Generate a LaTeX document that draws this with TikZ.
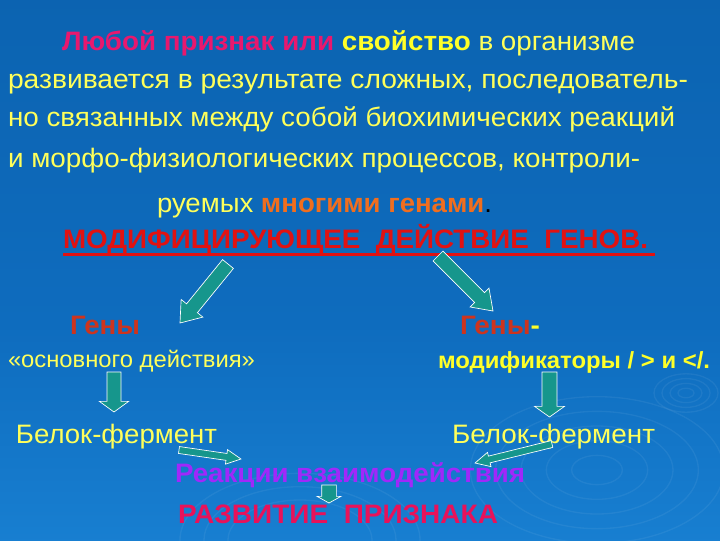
\documentclass[tikz,border=0pt]{standalone}
\usepackage{fontspec}
\usepackage{graphicx}
\setmainfont{Liberation Sans}
\usetikzlibrary{calc}
\definecolor{bgtop}{RGB}{10,92,166}
\definecolor{bgmid}{RGB}{14,108,190}
\definecolor{bgbot}{RGB}{36,150,232}
\definecolor{yel}{RGB}{255,255,90}
\definecolor{yelb}{RGB}{255,255,40}
\definecolor{pinkc}{RGB}{232,24,110}
\definecolor{orangec}{RGB}{240,110,30}
\definecolor{redc}{RGB}{225,18,18}
\definecolor{genyc}{RGB}{205,52,30}
\definecolor{purplec}{RGB}{160,40,250}
\definecolor{razvc}{RGB}{232,18,90}
\definecolor{teal}{RGB}{22,150,140}
\pgfdeclareverticalshading{bgshade}{100bp}{color(0bp)=(bgbot); color(45bp)=(bgmid); color(100bp)=(bgtop)}
\newcommand\fitto[2]{\resizebox{#1}{\height}{#2}}
\newcommand\blockarr[5]{%
  \coordinate (hb) at ($(#2)!#5!(#1)$);
  \filldraw[barrow] ($(#1)!#3!90:(#2)$) -- ($(hb)!#3!-90:(#1)$) -- ($(hb)!#4!-90:(#1)$) -- (#2) -- ($(hb)!#4!90:(#1)$) -- ($(hb)!#3!90:(#1)$) -- ($(#1)!#3!-90:(#2)$) -- cycle;}
\begin{document}
\begin{tikzpicture}[x=0.75pt,y=-0.75pt,
  txt/.style={inner sep=0pt, outer sep=0pt, anchor=base west, font=\fontsize{20}{24}\selectfont},
  small/.style={font=\fontsize{17.5}{21}\selectfont},
  barrow/.style={fill=teal, draw=white, line width=0.5pt, line join=miter},
  ripple/.style={draw=white, opacity=0.06, line width=1pt}]
\useasboundingbox (0,0) rectangle (720,540);
\fill[shading=bgshade] (0,0) rectangle (720,540);
% ripples
\foreach \r in {1,2,3,4,5}{
  \draw[ripple] (597,470) ellipse [x radius=\r*19pt, y radius=\r*11pt];
}
\foreach \r in {1,2,3,4}{
  \draw[ripple] (686,393) ellipse [x radius=\r*6pt, y radius=\r*3.6pt];
}
\foreach \r in {3,4,5}{
  \draw[ripple] (300,540) ellipse [x radius=\r*18pt, y radius=\r*10pt];
}
% text
\node[txt] (l1) at (62,50) {\fitto{429.75pt}{{\bfseries\color{pinkc}Любой признак или} {\bfseries\color{yelb}свойство} {\color{yel}в организме}}};
\node[txt, text=yel] (l2) at (8,88) {\fitto{510pt}{развивается в результате сложных, последователь-}};
\node[txt, text=yel] (l3) at (8,126) {\fitto{500.25pt}{но связанных между собой биохимических реакций}};
\node[txt, text=yel] (l4) at (8,167) {\fitto{474pt}{и морфо-физиологических процессов, контроли-}};
\node[txt] (l5) at (157,212) {\fitto{251.25pt}{{\color{yel}руемых} {\bfseries\color{orangec}многими генами}{\color{black}.}}};
\node[txt, text=redc] (l6) at (63,248) {\fitto{438.75pt}{\bfseries МОДИФИЦИРУЮЩЕЕ\ \ ДЕЙСТВИЕ\ \ ГЕНОВ.}};
\draw[redc, line width=1.6pt] (63,254.5) -- (655,254.5);
\node[txt, text=genyc] (gl) at (70,334) {\fitto{52.5pt}{\bfseries Гены}};
\node[txt, small, text=yel] (osn) at (8,367) {\fitto{185.25pt}{«основного действия»}};
\node[txt] (gr) at (460,334) {\fitto{60pt}{\bfseries{\color{genyc}Гены}{\color{yelb}-}}};
\node[txt, small, text=yelb] (mod) at (438,368) {\fitto{204pt}{\bfseries модификаторы / > и </.}};
\node[txt, text=yel] (bl) at (16,443) {\fitto{150.75pt}{Белок-фермент}};
\node[txt, text=yel] (br) at (452,443) {\fitto{152.25pt}{Белок-фермент}};
\node[txt, text=purplec] (reak) at (175,482) {\fitto{262.5pt}{\bfseries Реакции взаимодействия}};
\node[txt, text=razvc] (razv) at (178,523) {\fitto{240pt}{\bfseries РАЗВИТИЕ\ \ ПРИЗНАКА}};
% arrow end points
\coordinate (a1s) at (228,264); \coordinate (a1e) at (180,323);
\coordinate (a2s) at (438,256); \coordinate (a2e) at (493,311);
\coordinate (a3s) at (114,372); \coordinate (a3e) at (114,412);
\coordinate (a4s) at (549.5,372); \coordinate (a4e) at (549.5,417);
\coordinate (a5s) at (179,450); \coordinate (a5e) at (241,459);
\coordinate (a6s) at (552,444); \coordinate (a6e) at (475,463);
\coordinate (a7s) at (329,485); \coordinate (a7e) at (329,503);
\blockarr{a1s}{a1e}{5.25pt}{10.5pt}{14.25pt}
\blockarr{a2s}{a2e}{5.25pt}{10pt}{14.25pt}
\blockarr{a3s}{a3e}{5.25pt}{11pt}{8pt}
\blockarr{a4s}{a4e}{5.6pt}{11.25pt}{8pt}
\blockarr{a5s}{a5e}{2.6pt}{5.5pt}{11pt}
\blockarr{a6s}{a6e}{2.6pt}{5.5pt}{11pt}
\blockarr{a7s}{a7e}{5.5pt}{9pt}{5pt}
\end{tikzpicture}
\end{document}
